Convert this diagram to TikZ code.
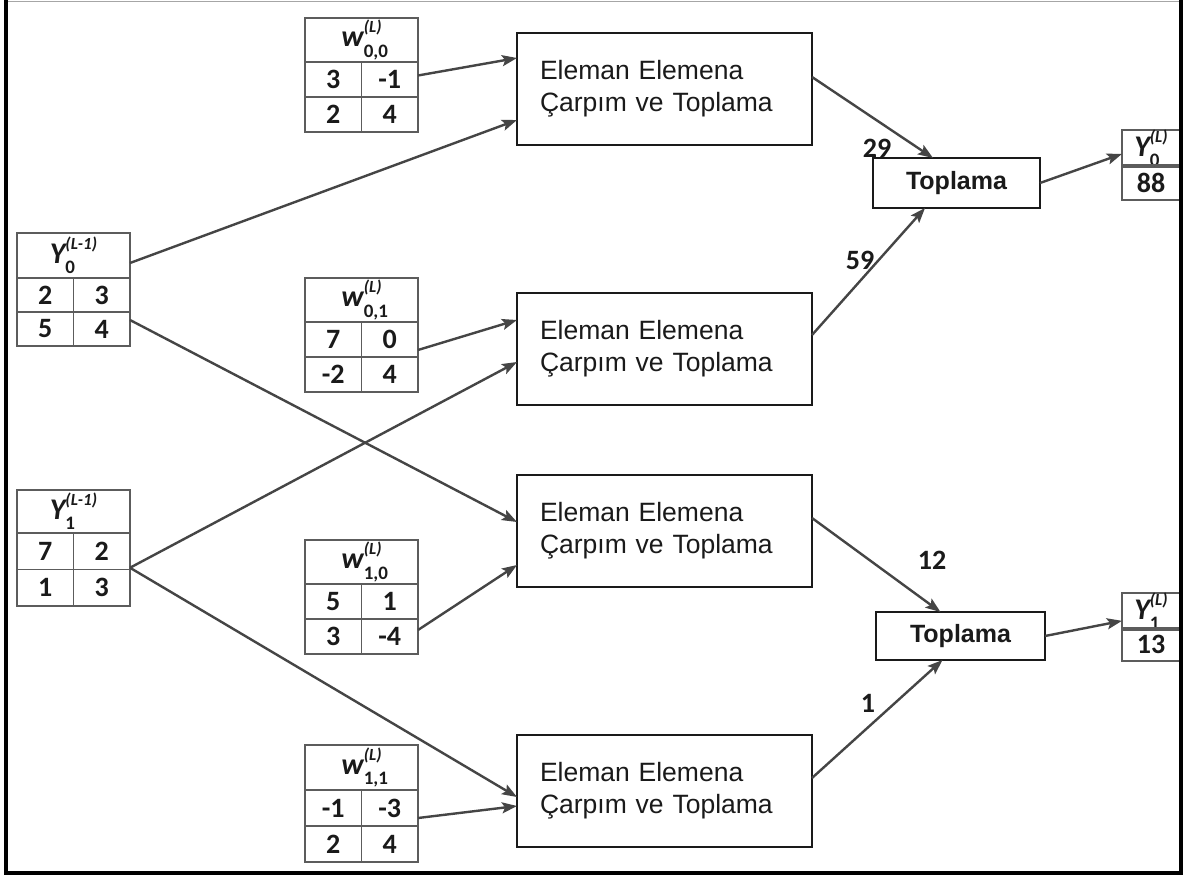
\documentclass[tikz,border=0pt]{standalone}
\usepackage{fontspec}
\setmainfont{Liberation Sans}
\newfontfamily\calib{Carlito}
\usetikzlibrary{arrows.meta}

\definecolor{ink}{HTML}{1A1A1A}
\definecolor{wire}{HTML}{454545}
\definecolor{rule}{HTML}{5C5C5C}

\newcommand\fs[1]{\fontsize{#1}{#1}\selectfont}
% symbol with stacked superscript and subscript
\newcommand\idx[3]{{\fs{30}\itshape #1}\rlap{\raisebox{-0.36em}{\fs{19}\upshape #3}}\raisebox{0.50em}{\fs{17}\itshape #2}}

\tikzset{
  cell/.style={draw=rule, line width=1.8pt, inner sep=0pt, outer sep=0pt,
    font=\calib\bfseries\fs{28}, text=ink},
  mult/.style={draw=ink, line width=2.2pt, minimum width=295pt, minimum height=112pt,
    inner xsep=23pt, inner ysep=0pt, text width=249pt, align=left, outer sep=0pt,
    font=\fontsize{26.5}{32}\selectfont, text=ink},
  sumbox/.style={draw=ink, line width=2pt, minimum width=167pt, minimum height=50pt,
    inner sep=0pt, outer sep=0pt, font=\bfseries\fs{25}, text=ink},
  lbl/.style={font=\calib\bfseries\fs{28}, text=ink, inner sep=0pt},
  conn/.style={draw=wire, line width=2.4pt, -{Stealth[length=15pt,width=11pt,inset=3pt]}},
}

% 2x2 table with a header row; header height \hh, row height \rh
\newcommand\mtab[8]{%
  \node[cell, minimum width=113pt, minimum height=\hh pt, anchor=north west] (#1) at (#2,#3) {#4};
  \node[cell, minimum width=56.5pt, minimum height=\rh pt, anchor=north west] (#1-a) at (#2,#3+\hh) {#5};
  \node[cell, minimum width=56.5pt, minimum height=\rh pt, anchor=north west] (#1-b) at (#2+56.5,#3+\hh) {#6};
  \node[cell, minimum width=56.5pt, minimum height=\rh pt, anchor=north west] (#1-c) at (#2,#3+\hh+\rh) {#7};
  \node[cell, minimum width=56.5pt, minimum height=\rh pt, anchor=north west] (#1-d) at (#2+56.5,#3+\hh+\rh) {#8};
}

\begin{document}
\begin{tikzpicture}[x=1pt,y=-1pt]
\useasboundingbox (0,0) rectangle (1188,877);
\fill[white] (0,0) rectangle (1188,877);

% input feature maps
\def\hh{45}\def\rh{34}
\mtab{y0}{17}{233}{\idx{Y}{(L-1)}{0}}{2}{3}{5}{4}
\def\hh{43}\def\rh{36.5}
\mtab{y1}{17}{490}{\idx{Y}{(L-1)}{1}}{7}{2}{1}{3}

% kernels
\def\hh{44}\def\rh{35}
\mtab{w00}{305}{18}{\idx{w}{(L)}{0,0}}{3}{-1}{2}{4}
\mtab{w01}{305}{278}{\idx{w}{(L)}{0,1}}{7}{0}{-2}{4}
\mtab{w10}{305}{540}{\idx{w}{(L)}{1,0}}{5}{1}{3}{-4}
\def\hh{45}\def\rh{36}
\mtab{w11}{305}{745}{\idx{w}{(L)}{1,1}}{-1}{-3}{2}{4}

% element-wise products
\node[mult, anchor=north west] (m1) at (517,33) {Eleman Elemena\\Çarpım ve Toplama};
\node[mult, anchor=north west] (m2) at (517,293) {Eleman Elemena\\Çarpım ve Toplama};
\node[mult, anchor=north west] (m3) at (517,475) {Eleman Elemena\\Çarpım ve Toplama};
\node[mult, anchor=north west] (m4) at (517,735) {Eleman Elemena\\Çarpım ve Toplama};

% sums
\node[sumbox, anchor=north west] (t1) at (873,158) {Toplama};
\node[sumbox, anchor=north west, minimum width=169pt, minimum height=48pt] (t2) at (876,612) {Toplama};

% outputs, cut off by the frame
\begin{scope}
  \clip (0,0) rectangle (1179,877);
  \node[cell, minimum width=58pt, minimum height=35pt, anchor=north west] (y0o) at (1122,130) {\idx{Y}{(L)}{0}};
  \node[cell, minimum width=58pt, minimum height=35pt, anchor=north west] (y0o-v) at (1122,165) {88};
  \node[cell, minimum width=58pt, minimum height=35pt, anchor=north west] (y1o) at (1122,593) {\idx{Y}{(L)}{1}};
  \node[cell, minimum width=58pt, minimum height=33pt, anchor=north west] (y1o-v) at (1122,628) {13};
\end{scope}

% connectors into the products
\draw[conn] ([yshift=4pt]w00-b.east) -- ([yshift=31pt]m1.west);
\draw[conn] ([yshift=-7.5pt]y0.east) -- ([yshift=-31pt]m1.west);
\draw[conn] ([yshift=9pt]y0-d.east) -- ([yshift=9pt]m3.west);
\draw[conn] ([yshift=-10.5pt]w01-b.east) -- ([yshift=29pt]m2.west);
\draw[conn] ([yshift=20pt]y1-d.east) -- ([yshift=-13pt]m2.west);
\draw[conn] ([yshift=20pt]y1-d.east) -- ([yshift=-6pt]m4.west);
\draw[conn] ([yshift=6.5pt]w10-d.east) -- ([yshift=-34pt]m3.west);
\draw[conn] ([yshift=-10pt]w11-b.east) -- ([yshift=-15pt]m4.west);

% connectors into the sums and outputs
\draw[conn] ([yshift=12pt]m1.east) -- ([xshift=-23.5pt]t1.north);
\draw[conn] ([yshift=14pt]m2.east) -- ([xshift=-31.5pt]t1.south);
\draw[conn] ([yshift=13pt]m3.east) -- ([xshift=-20pt]t2.north);
\draw[conn] ([yshift=13pt]m4.east) -- ([xshift=-18pt]t2.south);
\draw[conn] (t1.east) -- ([yshift=-5.5pt]y0o.west);
\draw[conn] (t2.east) -- ([yshift=-9.5pt]y1o.west);

% partial results
\node[lbl] (l29) at (877,148) {29};
\node[lbl] (l59) at (860,260) {59};
\node[lbl] (l12) at (932,560) {12};
\node[lbl] (l1) at (868,703) {1};

% frame
\draw[black, line width=4pt] (6,0) -- (6,873) -- (1181,873) -- (1181,0);
\draw[gray!70, line width=1pt] (8,1.5) -- (1179,1.5);
\end{tikzpicture}
\end{document}
